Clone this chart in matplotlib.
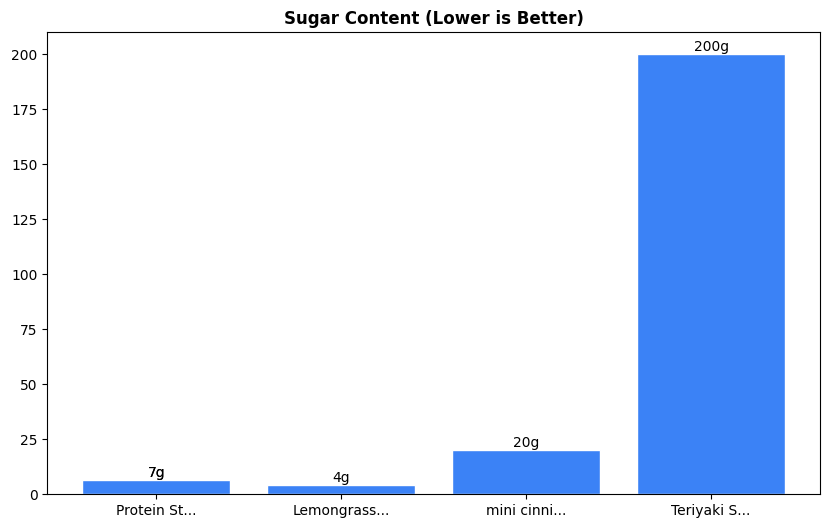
import matplotlib
matplotlib.use("Agg")
import matplotlib.pyplot as plt

categories = ["Protein St...", "Lemongrass...", "mini cinni...", "Teriyaki S..."]
values = [6.5, 4, 20, 200]
labels = ["7g", "4g", "20g", "200g"]

fig = plt.figure(figsize=(8.31, 5.28), dpi=100)
ax = fig.add_axes([0.057, 0.064, 0.930, 0.875])
bars = ax.bar(categories, values, color="#3b82f6", edgecolor="white", linewidth=1)
for b, lab in zip(bars, labels):
    ax.text(b.get_x() + b.get_width() / 2, b.get_height(), lab,
            ha="center", va="bottom", fontsize=10)
ax.text(bars[0].get_x() + bars[0].get_width() / 2, bars[0].get_height(), labels[0],
        ha="center", va="bottom", fontsize=10)
ax.set_ylim(0, 210)
ax.set_title("Sugar Content (Lower is Better)", fontweight="bold", fontsize=12)
fig.savefig("out.png", dpi=100)
